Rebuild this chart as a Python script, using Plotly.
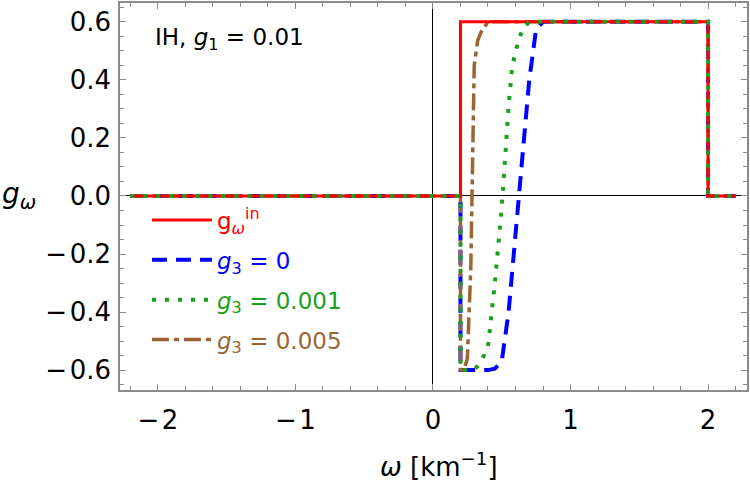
import plotly.graph_objects as go

# ---- data ----
w_in = [-2.2, 0.2, 0.2, 2.0, 2.0, 2.2]
g_in = [0, 0, 0.6, 0.6, 0, 0]

w_g0 = [-2.2, 0.2, 0.2, 0.3, 0.4, 0.45, 0.5, 0.55, 0.6, 0.65, 0.7, 0.75, 0.8, 2.0, 2.0, 2.2]
g_g0 = [0, 0, -0.6, -0.6, -0.6, -0.595, -0.57, -0.40, -0.14, 0.14, 0.40, 0.575, 0.6, 0.6, 0, 0]

w_g001 = [-2.2, 0.2, 0.2, 0.3, 0.35, 0.4, 0.45, 0.5, 0.55, 0.575, 0.6, 0.65, 0.7, 2.0, 2.0, 2.2]
g_g001 = [0, 0, -0.6, -0.6, -0.57, -0.52, -0.30, -0.04, 0.31, 0.44, 0.50, 0.575, 0.6, 0.6, 0, 0]

w_g005 = [-2.2, 0.2, 0.2, 0.225, 0.25, 0.275, 0.3, 0.325, 0.35, 0.4, 2.0, 2.0, 2.2]
g_g005 = [0, 0, -0.6, -0.6, -0.56, -0.25, 0.45, 0.535, 0.565, 0.6, 0.6, 0, 0]

x_ticks = [-2, -1, 0, 1, 2]
x_labels = ["\u2212\u200a2", "\u2212\u200a1", "0", "1", "2"]
y_ticks = [-0.6, -0.4, -0.2, 0.0, 0.2, 0.4, 0.6]
y_labels = ["\u2212\u200a0.6", "\u2212\u200a0.4", "\u2212\u200a0.2", "0.0", "0.2", "0.4", "0.6"]

RED = "#ff0000"
BLUE = "#0000ff"
GREEN = "#1aa01a"
BROWN = "#996633"
FONT = "DejaVu Sans"

fig = go.Figure()
fig.add_trace(go.Scatter(x=w_g0, y=g_g0, mode="lines", legendrank=2, legendgroup="b",
                         line=dict(color=BLUE, width=4, dash="15px,9px"),
                         name='<span style="color:#0000ff"><i>g</i><sub>3</sub> = 0</span>'))
fig.add_trace(go.Scatter(x=w_g005, y=g_g005, mode="lines", legendrank=4, legendgroup="d",
                         line=dict(color=BROWN, width=3.5, dash="17px,5px,5px,5px"),
                         name='<span style="color:#996633"><i>g</i><sub>3</sub> = 0.005</span>'))
fig.add_trace(go.Scatter(x=w_in, y=g_in, mode="lines", legendrank=1, legendgroup="a",
                         line=dict(color=RED, width=3),
                         name='<span style="color:#ff0000">g<sub><i>ω</i></sub><sup>in</sup></span>'))
fig.add_trace(go.Scatter(x=w_g001, y=g_g001, mode="lines", legendrank=3, legendgroup="c",
                         line=dict(color=GREEN, width=4, dash="4px,9px"),
                         name='<span style="color:#1aa01a"><i>g</i><sub>3</sub> = 0.001</span>'))

frame = "#8c8c8c"
fig.update_layout(
    width=750, height=488,
    margin=dict(l=120, r=1, t=1, b=98),
    paper_bgcolor="white", plot_bgcolor="white",
    font=dict(family=FONT, color="black", size=26),
    showlegend=True,
    legend=dict(x=0.043, y=0.495, xanchor="left", yanchor="top",
                bgcolor="rgba(0,0,0,0)", font=dict(size=23, family=FONT),
                itemwidth=60, tracegroupgap=7, traceorder="grouped"),
    xaxis=dict(range=[-2.275, 2.283], showgrid=False,
               zeroline=True, zerolinecolor="black", zerolinewidth=1,
               showline=True, linecolor=frame, linewidth=1.5, mirror="allticks",
               ticks="inside", ticklen=6, tickcolor=frame, tickwidth=1,
               tickvals=x_ticks, ticktext=x_labels,
               tickfont=dict(size=26, family=FONT, color="black"),
               ticklabelstandoff=6,
               minor=dict(dtick=0.2, tick0=0, ticks="inside", ticklen=4, tickcolor=frame, showgrid=False)),
    yaxis=dict(range=[-0.6686, 0.665], showgrid=False,
               zeroline=True, zerolinecolor="black", zerolinewidth=1,
               showline=True, linecolor=frame, linewidth=1.5, mirror="allticks",
               ticks="inside", ticklen=6, tickcolor=frame, tickwidth=1,
               tickvals=y_ticks, ticktext=y_labels,
               tickfont=dict(size=26, family=FONT, color="black"),
               ticklabelstandoff=2,
               minor=dict(dtick=0.05, tick0=0, ticks="inside", ticklen=4, tickcolor=frame, showgrid=False)),
)

fig.add_annotation(xref="paper", yref="y", x=-0.161, y=0, xanchor="center", yanchor="middle",
                   text="<i>g</i><sub><i>ω</i></sub>", showarrow=False,
                   font=dict(size=28, family=FONT, color="black"))
fig.add_annotation(xref="paper", yref="paper", x=0.509, y=-0.195, xanchor="center", yanchor="middle",
                   text="<i>ω</i> [km<sup>\u22121</sup>]", showarrow=False,
                   font=dict(size=26, family=FONT, color="black"))
fig.add_annotation(xref="paper", yref="paper", x=0.052, y=0.908, xanchor="left", yanchor="middle",
                   text="IH, <i>g</i><sub>1</sub> = 0.01", showarrow=False,
                   font=dict(size=23, family=FONT, color="black"))

fig.write_html("out.html")
